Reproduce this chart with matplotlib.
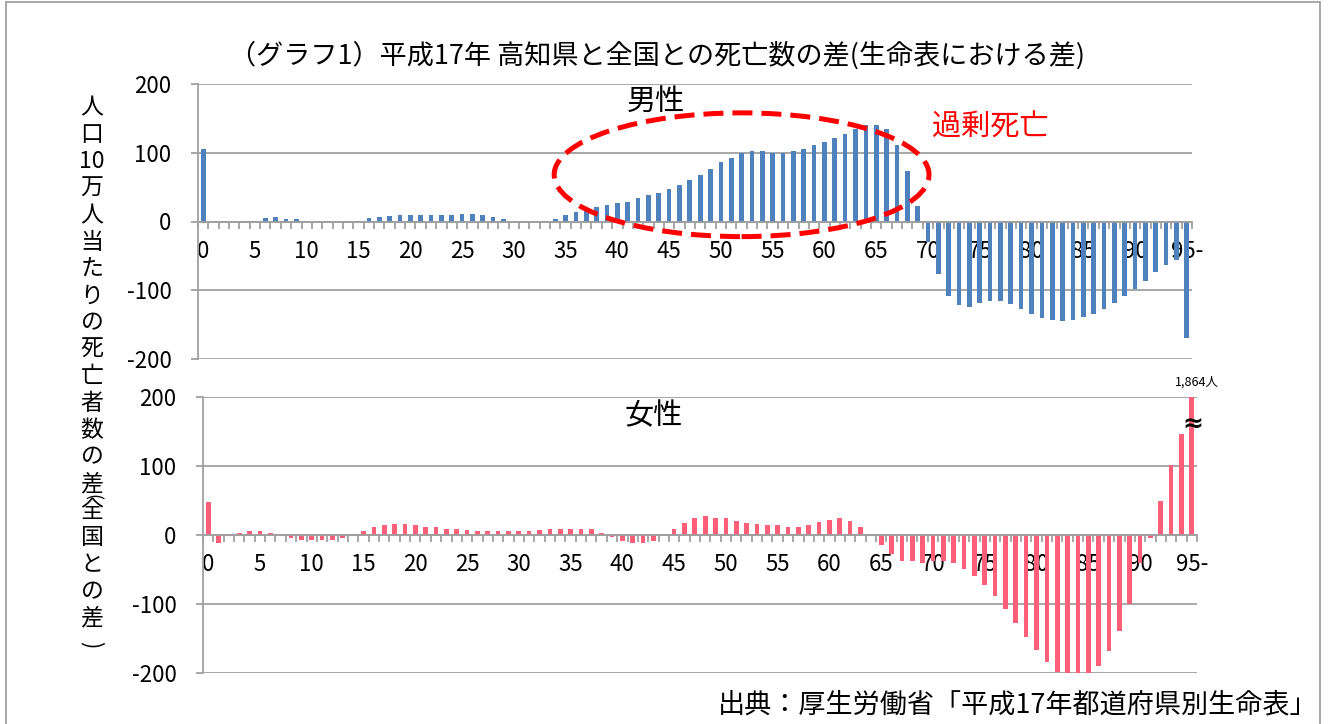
import numpy as np
import matplotlib.pyplot as plt
from matplotlib.patches import Ellipse, Rectangle

plt.rcParams['font.family'] = ['Noto Sans CJK JP', 'DejaVu Sans']
plt.rcParams['axes.unicode_minus'] = False

W, H = 1329, 724

# ages 0..95 (95 = "95-")
ages = list(range(96))
xlabels = [str(a) if a < 95 else '95-' for a in range(0, 96, 5)]

# 男性: 高知県 - 全国 (人口10万人当たり)
male = [105, -1, -1, -1, 0, 1, 5, 6, 3, 3,
        0, 0, 0, -1, -1, 1, 5, 6, 8, 9,
        9, 9, 9, 9, 9, 11, 11, 9, 6, 4,
        0, 0, 0, 0, 3, 9, 14, 20, 21, 24,
        27, 29, 34, 38, 41, 47, 53, 60, 67, 76,
        86, 93, 99, 102, 102, 100, 100, 102, 106, 112,
        116, 122, 127, 134, 140, 140, 134, 111, 73, 22,
        -30, -76, -108, -121, -124, -118, -115, -115, -120, -127,
        -134, -140, -143, -144, -143, -139, -134, -127, -118, -108,
        -98, -86, -73, -63, -56, -169]

# 女性
female = [48, -11, -2, 3, 6, 6, 3, 0, -4, -7,
          -7, -7, -7, -4, 1, 6, 12, 15, 16, 16,
          15, 12, 12, 9, 9, 7, 6, 6, 6, 6,
          6, 6, 7, 9, 9, 9, 9, 8, 3, -3,
          -9, -12, -12, -8, 0.5, 9, 18, 24, 27, 25,
          24, 21, 18, 16, 15, 14, 11, 12, 15, 19,
          22, 24, 21, 12, 0, -15, -28, -37, -38, -40,
          -38, -38, -41, -49, -60, -73, -89, -107, -127, -148,
          -166, -184, -199, -205, -208, -203, -190, -168, -139, -100,
          -41, -5, 50, 101, 146, 1864]

blue = '#4F81BD'
pink = '#FF5F78'
grid_c = '#A0A0A0'


def px(x, y):
    return x / W, 1 - y / H


def setup(ax, vals, color):
    ax.bar(ages, vals, width=0.45, color=color, zorder=3)
    ax.set_xlim(-0.5, 95.5)
    ax.set_ylim(-200, 200)
    ax.set_yticks([-200, -100, 0, 100, 200])
    ax.yaxis.grid(True, color=grid_c, lw=1.3, zorder=0)
    ax.tick_params(axis='y', length=5, color=grid_c, width=1.3, pad=14, labelsize=16)
    for s in ['top', 'right']:
        ax.spines[s].set_visible(False)
    ax.spines['left'].set_color(grid_c)
    ax.spines['left'].set_linewidth(1.3)
    ax.spines['bottom'].set_position(('data', 0))
    ax.spines['bottom'].set_color(grid_c)
    ax.spines['bottom'].set_linewidth(1.3)
    ax.spines['bottom'].set_zorder(4)
    ax.set_xticks(range(0, 96, 5))
    ax.set_xticklabels(xlabels)
    ax.set_xticks(np.arange(-0.5, 96, 1), minor=True)
    ax.tick_params(axis='x', which='major', length=0, pad=13, labelsize=16)
    ax.tick_params(axis='x', which='minor', length=5, color=grid_c, width=1.3)


fig = plt.figure(figsize=(W / 100, H / 100), dpi=100)

ax1 = fig.add_axes([198 / W, 1 - 359 / H, 994 / W, 275 / H])
setup(ax1, male, blue)
ax2 = fig.add_axes([203 / W, 1 - 673 / H, 994 / W, 276 / H])
setup(ax2, female, pink)

# 過剰死亡 の楕円
ax1.add_patch(Ellipse((52.0, 68), 36.2, 180, fill=False, ec='#FF0000', lw=3.6,
                      ls=(0, (4, 1.8)), clip_on=False, zorder=5))

# 95- 女性の省略表示
ax2.text(95.5, 212, '1,864人', ha='center', va='bottom', fontsize=9, clip_on=False)
ax2.text(95.1, 160, '≈', ha='center', va='center', fontsize=18, fontweight='bold',
         clip_on=False, zorder=6, family='DejaVu Sans')

fig.text(*px(657, 55), '（グラフ1）平成17年 高知県と全国との死亡数の差(生命表における差)',
         ha='center', va='center', fontsize=19.5)
fig.text(*px(656, 102), '男性', ha='center', va='center', fontsize=21)
fig.text(*px(654, 416), '女性', ha='center', va='center', fontsize=21)
fig.text(*px(990, 128), '過剰死亡', ha='center', va='center', fontsize=21, color='#FF0000')
fig.text(*px(1318, 705), '出典：厚生労働省「平成17年都道府県別生命表」',
         ha='right', va='center', fontsize=19.5)

# 縦書きの軸ラベル
ylab = ['人', '口', '10', '万', '人', '当', 'た', 'り', 'の', '死', '亡', '者', '数',
        'の', '差', '全', '国', 'と', 'の', '差']
for i, ch in enumerate(ylab):
    fig.text(*px(92, 108 + i * 26.85), ch, ha='center', va='center', fontsize=16.5)
fig.text(*px(92, 497), '(', ha='center', va='center', fontsize=13, rotation=-90)
fig.text(*px(92, 645), ')', ha='center', va='center', fontsize=16, rotation=-90)

fig.add_artist(Rectangle((6 / W, -0.05), 1314 / W, 1.05 - 2 / H, transform=fig.transFigure,
                         fill=False, ec=grid_c, lw=1.3))

fig.savefig('out.png', dpi=100)
